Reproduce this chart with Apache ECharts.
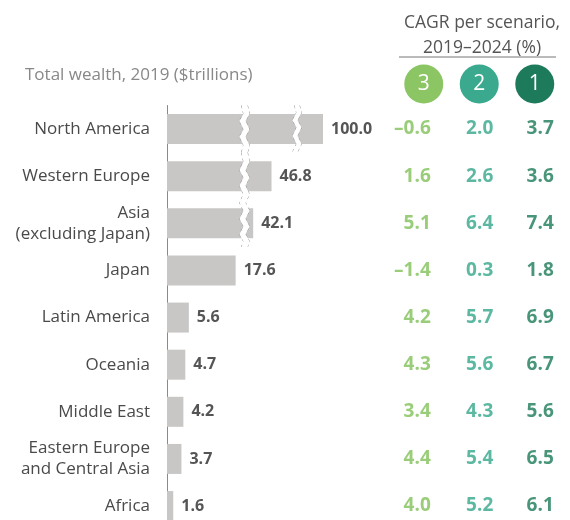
<!DOCTYPE html>
<html>
<head>
<meta charset="utf-8">
<script src="https://cdn.jsdelivr.net/npm/echarts@6/dist/echarts.min.js"></script>
<style>
  html, body { margin: 0; padding: 0; background: #fff; }
  #main { width: 570px; height: 520px; }
</style>
</head>
<body>
<div id="main"></div>
<script>
// data
var regions = ['North America', 'Western Europe', 'Asia\n(excluding Japan)', 'Japan', 'Latin America',
  'Oceania', 'Middle East', 'Eastern Europe\nand Central Asia', 'Africa'];
var wealth = [100.0, 46.8, 42.1, 17.6, 5.6, 4.7, 4.2, 3.7, 1.6];
var scenarios = ['3', '2', '1'];
var cagr3 = [-0.6, 1.6, 5.1, -1.4, 4.2, 4.3, 3.4, 4.4, 4.0];
var cagr2 = [2.0, 2.6, 6.4, 0.3, 5.7, 5.6, 4.3, 5.4, 5.2];
var cagr1 = [3.7, 3.6, 7.4, 1.8, 6.9, 6.7, 5.6, 6.5, 6.1];

var colors = { '3': '#8cc563', '2': '#3aa98e', '1': '#1d7b5b' };
var textColors = { '3': '#7fc058', '2': '#35a68a', '1': '#1b7a57' };
var font = 'Open Sans';

var chart = echarts.init(document.getElementById('main'));

// three bar grids so the axis breaks only cut the long bars
var rowH = 47.125;
var top0 = 105.5;
var groups = [[0, 1], [1, 3], [3, 9]];
var breakSets = [
  [{ start: 19, end: 40.5, gap: 1.5 }, { start: 52.5, end: 94, gap: 1.5 }],
  [{ start: 19, end: 40.5, gap: 1.5 }],
  []
];
var maxes = [100, 60, 40];

var grids = [], xAxes = [], yAxes = [], series = [];
groups.forEach(function (g, k) {
  grids.push({
    left: 167, width: 156, top: top0 + g[0] * rowH, height: (g[1] - g[0]) * rowH,
    outerBoundsMode: 'none', containLabel: false
  });
  xAxes.push({
    gridIndex: k, type: 'value', min: 0, max: maxes[k],
    breaks: breakSets[k],
    breakArea: {
      itemStyle: { color: '#fff', borderColor: '#909090', borderWidth: 1, opacity: 1 },
      zigzagAmplitude: 2, zigzagMinSpan: 7, zigzagMaxSpan: 9, zigzagZ: 100, expandOnClick: false
    },
    axisLine: { show: false }, axisTick: { show: false }, axisLabel: { show: false }, splitLine: { show: false }
  });
  yAxes.push({
    gridIndex: k, type: 'category', inverse: true,
    data: regions.slice(g[0], g[1]),
    axisLine: { show: true, lineStyle: { color: '#8a8a8a', width: 1 } },
    axisTick: { show: false },
    axisLabel: { color: '#4a4a4a', fontFamily: font, fontSize: 17, margin: 17, lineHeight: 21, align: 'right' }
  });
  series.push({
    type: 'bar', xAxisIndex: k, yAxisIndex: k,
    data: wealth.slice(g[0], g[1]),
    barWidth: 30,
    itemStyle: { color: '#c8c7c5' },
    label: {
      show: true, position: 'right', distance: 8,
      color: '#555', fontFamily: font, fontWeight: 'bold', fontSize: 16,
      formatter: function (p) { return p.value.toFixed(1); }
    },
    silent: true
  });
});

// CAGR table grid
grids.push({ left: 396, width: 166.5, top: top0, height: 9 * rowH, outerBoundsMode: 'none', containLabel: false });
xAxes.push({
  gridIndex: 3, type: 'category', position: 'top', data: scenarios,
  axisLine: { show: false }, axisTick: { show: false },
  axisLabel: {
    margin: 2,
    formatter: function (v) { return '{c' + v + '|' + v + '}'; },
    rich: {
      c3: { backgroundColor: colors['3'], color: '#fff', width: 39, height: 39, lineHeight: 39, borderRadius: 19.5, align: 'center', fontSize: 21, fontFamily: font },
      c2: { backgroundColor: colors['2'], color: '#fff', width: 39, height: 39, lineHeight: 39, borderRadius: 19.5, align: 'center', fontSize: 21, fontFamily: font },
      c1: { backgroundColor: colors['1'], color: '#fff', width: 39, height: 39, lineHeight: 39, borderRadius: 19.5, align: 'center', fontSize: 21, fontFamily: font }
    }
  }
});
yAxes.push({ gridIndex: 3, type: 'category', inverse: true, data: regions, show: false });

var rightShift = [7, 14, 19];
[cagr3, cagr2, cagr1].forEach(function (arr, j) {
  var sc = scenarios[j];
  series.push({
    type: 'scatter', xAxisIndex: 3, yAxisIndex: 3,
    symbolSize: 1,
    itemStyle: { color: 'rgba(0,0,0,0)' },
    data: arr.map(function (v, i) { return [sc, i, v]; }),
    label: {
      show: true, position: 'inside', align: 'right', offset: [rightShift[j], 0],
      color: textColors[sc], fontFamily: font, fontWeight: 'bold', fontSize: 19,
      formatter: function (p) {
        var v = p.value[2];
        return (v < 0 ? '\u2013' : '') + Math.abs(v).toFixed(1);
      }
    },
    silent: true
  });
});

chart.setOption({
  animation: false,
  title: [
    { text: 'Total wealth, 2019 ($trillions)', left: 20, top: 62,
      textStyle: { color: '#888', fontFamily: font, fontSize: 17, fontWeight: 'normal' } },
    { text: 'CAGR per scenario,\n2019\u20132024 (%)', left: 477, top: 6, textAlign: 'center',
      textStyle: { color: '#555', fontFamily: font, fontSize: 17.5, fontWeight: 'normal', lineHeight: 25, align: 'center' } }
  ],
  graphic: [
    { type: 'line', shape: { x1: 399, y1: 57, x2: 556, y2: 57 }, style: { stroke: '#777', lineWidth: 1 } }
  ],
  grid: grids,
  xAxis: xAxes,
  yAxis: yAxes,
  series: series
});
</script>
</body>
</html>
